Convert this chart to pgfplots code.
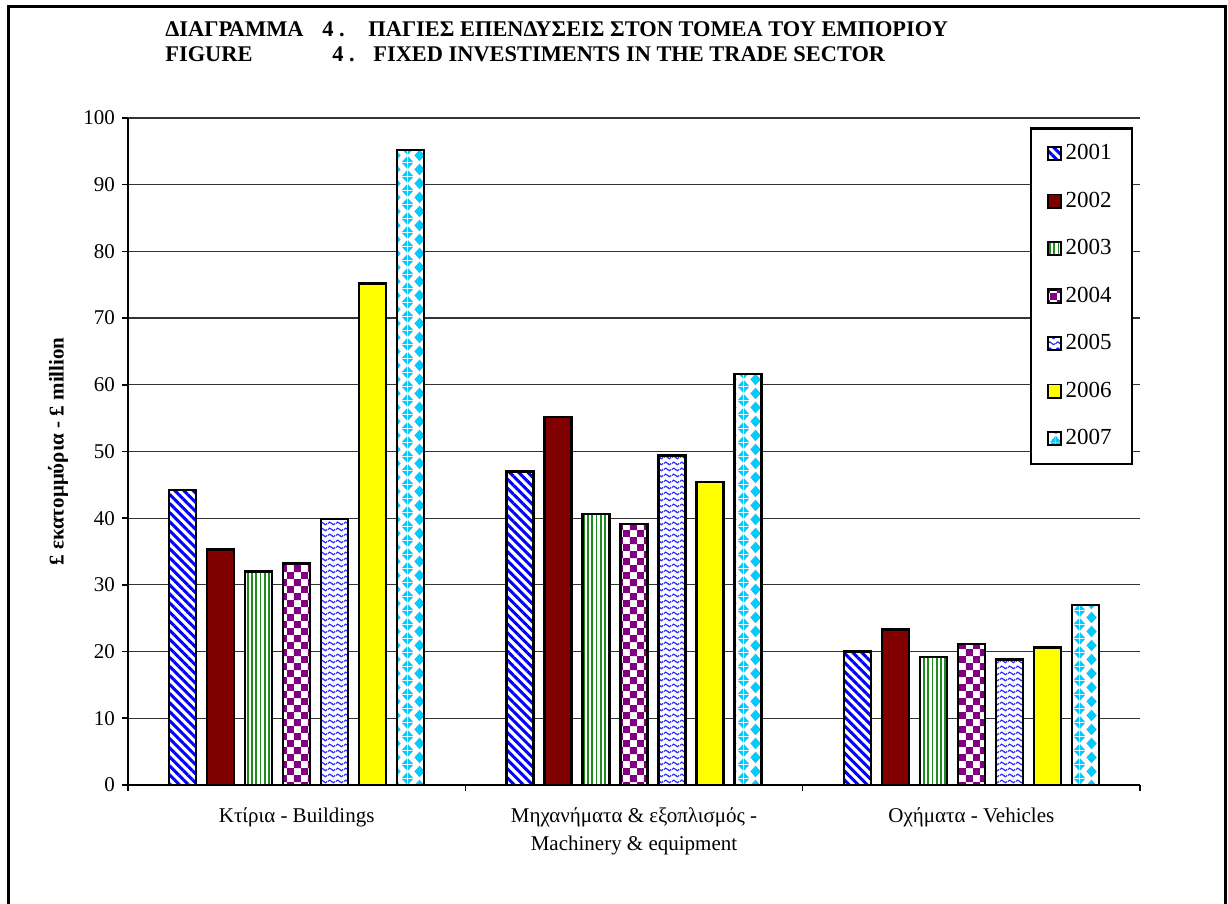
\documentclass[border=0pt]{standalone}
\usepackage{fontspec}
\setmainfont{Liberation Serif}
\usepackage{pgfplots}
\pgfplotsset{compat=1.18}
\usetikzlibrary{patterns,patterns.meta}

\definecolor{cBlue}{RGB}{0,0,255}
\definecolor{cDarkRed}{RGB}{128,0,0}
\definecolor{cGreen}{RGB}{30,140,30}
\definecolor{cPurple}{RGB}{128,0,128}
\definecolor{cWave}{RGB}{40,40,255}
\definecolor{cYellow}{RGB}{255,255,0}
\definecolor{cCyan}{RGB}{0,204,255}

\tikzdeclarepattern{
  name=mychecker,
  bounding box={(0pt,0pt) and (7.2pt,7.2pt)},
  tile size={(7.2pt,7.2pt)},
  code={
    \fill (0pt,0pt) rectangle (3.6pt,3.6pt);
    \fill (3.6pt,3.6pt) rectangle (7.2pt,7.2pt);
  }
}
\tikzdeclarepattern{
  name=mywaves,
  bounding box={(0pt,0pt) and (4pt,3pt)},
  tile size={(4pt,3pt)},
  code={
    \draw[line width=0.65pt] (-0.05pt,1.5pt) sin (1pt,2.25pt) cos (2pt,1.5pt) sin (3pt,0.75pt) cos (4.05pt,1.5pt);
  }
}
\tikzdeclarepattern{
  name=mydiamonds,
  bounding box={(0pt,0pt) and (12pt,7pt)},
  tile size={(12pt,7pt)},
  code={
    \fill (6pt,0.4pt) -- (8.7pt,3.5pt) -- (6pt,6.6pt) -- (3.3pt,3.5pt) -- cycle;
    \fill (0pt,0pt) -- (2.7pt,0pt) -- (0pt,3.1pt) -- cycle;
    \fill (12pt,0pt) -- (12pt,3.1pt) -- (9.3pt,0pt) -- cycle;
    \fill (12pt,7pt) -- (9.3pt,7pt) -- (12pt,3.9pt) -- cycle;
    \fill (0pt,7pt) -- (0pt,3.9pt) -- (2.7pt,7pt) -- cycle;
  }
}

\begin{document}
\begin{tikzpicture}
\useasboundingbox (0,0) rectangle (614pt,452pt);
\draw[line width=1.5pt] (4pt,-2pt) -- (4pt,448.5pt) -- (612.5pt,448.5pt) -- (612.5pt,-2pt);

\tikzset{ttl/.style={anchor=base west,font=\fontsize{11.2}{13}\selectfont\bfseries,inner sep=0pt}}
\node[ttl] at (82.5pt,433.5pt) {ΔΙΑΓΡΑΜΜΑ};
\node[ttl] at (161pt,433.5pt) {4 .};
\node[ttl] at (184pt,433.5pt) {ΠΑΓΙΕΣ ΕΠΕΝΔΥΣΕΙΣ ΣΤΟΝ ΤΟΜΕΑ ΤΟΥ ΕΜΠΟΡΙΟΥ};
\node[ttl] at (82.5pt,421pt) {FIGURE};
\node[ttl] at (166pt,421pt) {4 .};
\node[ttl] at (186.5pt,421pt) {FIXED INVESTIMENTS IN THE TRADE SECTOR};

\begin{axis}[
  at={(64pt,59.5pt)}, anchor=south west,
  scale only axis, width=506pt, height=333.5pt,
  xmin=-0.5, xmax=2.5, ymin=0, ymax=100,
  ybar=5.5pt, bar width=13.5pt,
  axis lines*=left,
  axis line style={line width=1pt, black},
  tick align=outside,
  major tick length=3pt,
  tick style={black, line width=0.8pt},
  ytick={0,10,...,100},
  xtick={-0.5,0.5,1.5,2.5},
  xticklabels={},
  extra x ticks={0,1,2},
  extra x tick labels={{Κτίρια - Buildings},{Μηχανήματα \& εξοπλισμός -\\Machinery \& equipment},{Οχήματα - Vehicles}},
  extra x tick style={major tick length=0pt, tick label style={align=center, anchor=north, yshift=-8pt, font=\fontsize{10.5}{14}\selectfont}},
  ymajorgrids,
  grid style={black!80, line width=0.6pt},
  tick label style={font=\fontsize{10.5}{12}\selectfont},
  /pgf/number format/assume math mode=true,
  ylabel={\bfseries £ εκατομμύρια - £ million},
  ylabel style={at={(axis description cs:-0.069,0.5)}, anchor=center, font=\fontsize{10.5}{12}\selectfont},
  legend style={at={(rel axis cs:0.891,0.986)}, anchor=north west, draw=black, line width=1.2pt,
    font=\fontsize{11.5}{13}\selectfont, row sep=10.6pt, inner xsep=8pt, inner ysep=6pt},
  legend cell align=left,
  B/.style={draw=black, line width=1.2pt,
    legend image code/.code={\draw[##1, line width=0.8pt] (0pt,-3.3pt) rectangle (6.6pt,3.3pt);}},
]
\addplot[B, preaction={fill=white}, pattern={Lines[angle=-45,distance=3.2pt,line width=1.5pt]}, pattern color=cBlue]
  coordinates {(0,44.2) (1,47.0) (2,20.0)};
\addplot[B, fill=cDarkRed]
  coordinates {(0,35.3) (1,55.2) (2,23.3)};
\addplot[B, preaction={fill=white}, pattern={Lines[angle=90,distance=2.1pt,line width=0.9pt]}, pattern color=cGreen]
  coordinates {(0,32.0) (1,40.6) (2,19.2)};
\addplot[B, preaction={fill=white}, pattern=mychecker, pattern color=cPurple]
  coordinates {(0,33.2) (1,39.1) (2,21.1)};
\addplot[B, preaction={fill=white}, pattern=mywaves, pattern color=cWave]
  coordinates {(0,39.9) (1,49.4) (2,18.8)};
\addplot[B, fill=cYellow]
  coordinates {(0,75.2) (1,45.4) (2,20.6)};
\addplot[B, preaction={fill=white}, pattern=mydiamonds, pattern color=cCyan]
  coordinates {(0,95.2) (1,61.6) (2,27.0)};
\legend{2001,2002,2003,2004,2005,2006,2007}
\end{axis}
\end{tikzpicture}
\end{document}
